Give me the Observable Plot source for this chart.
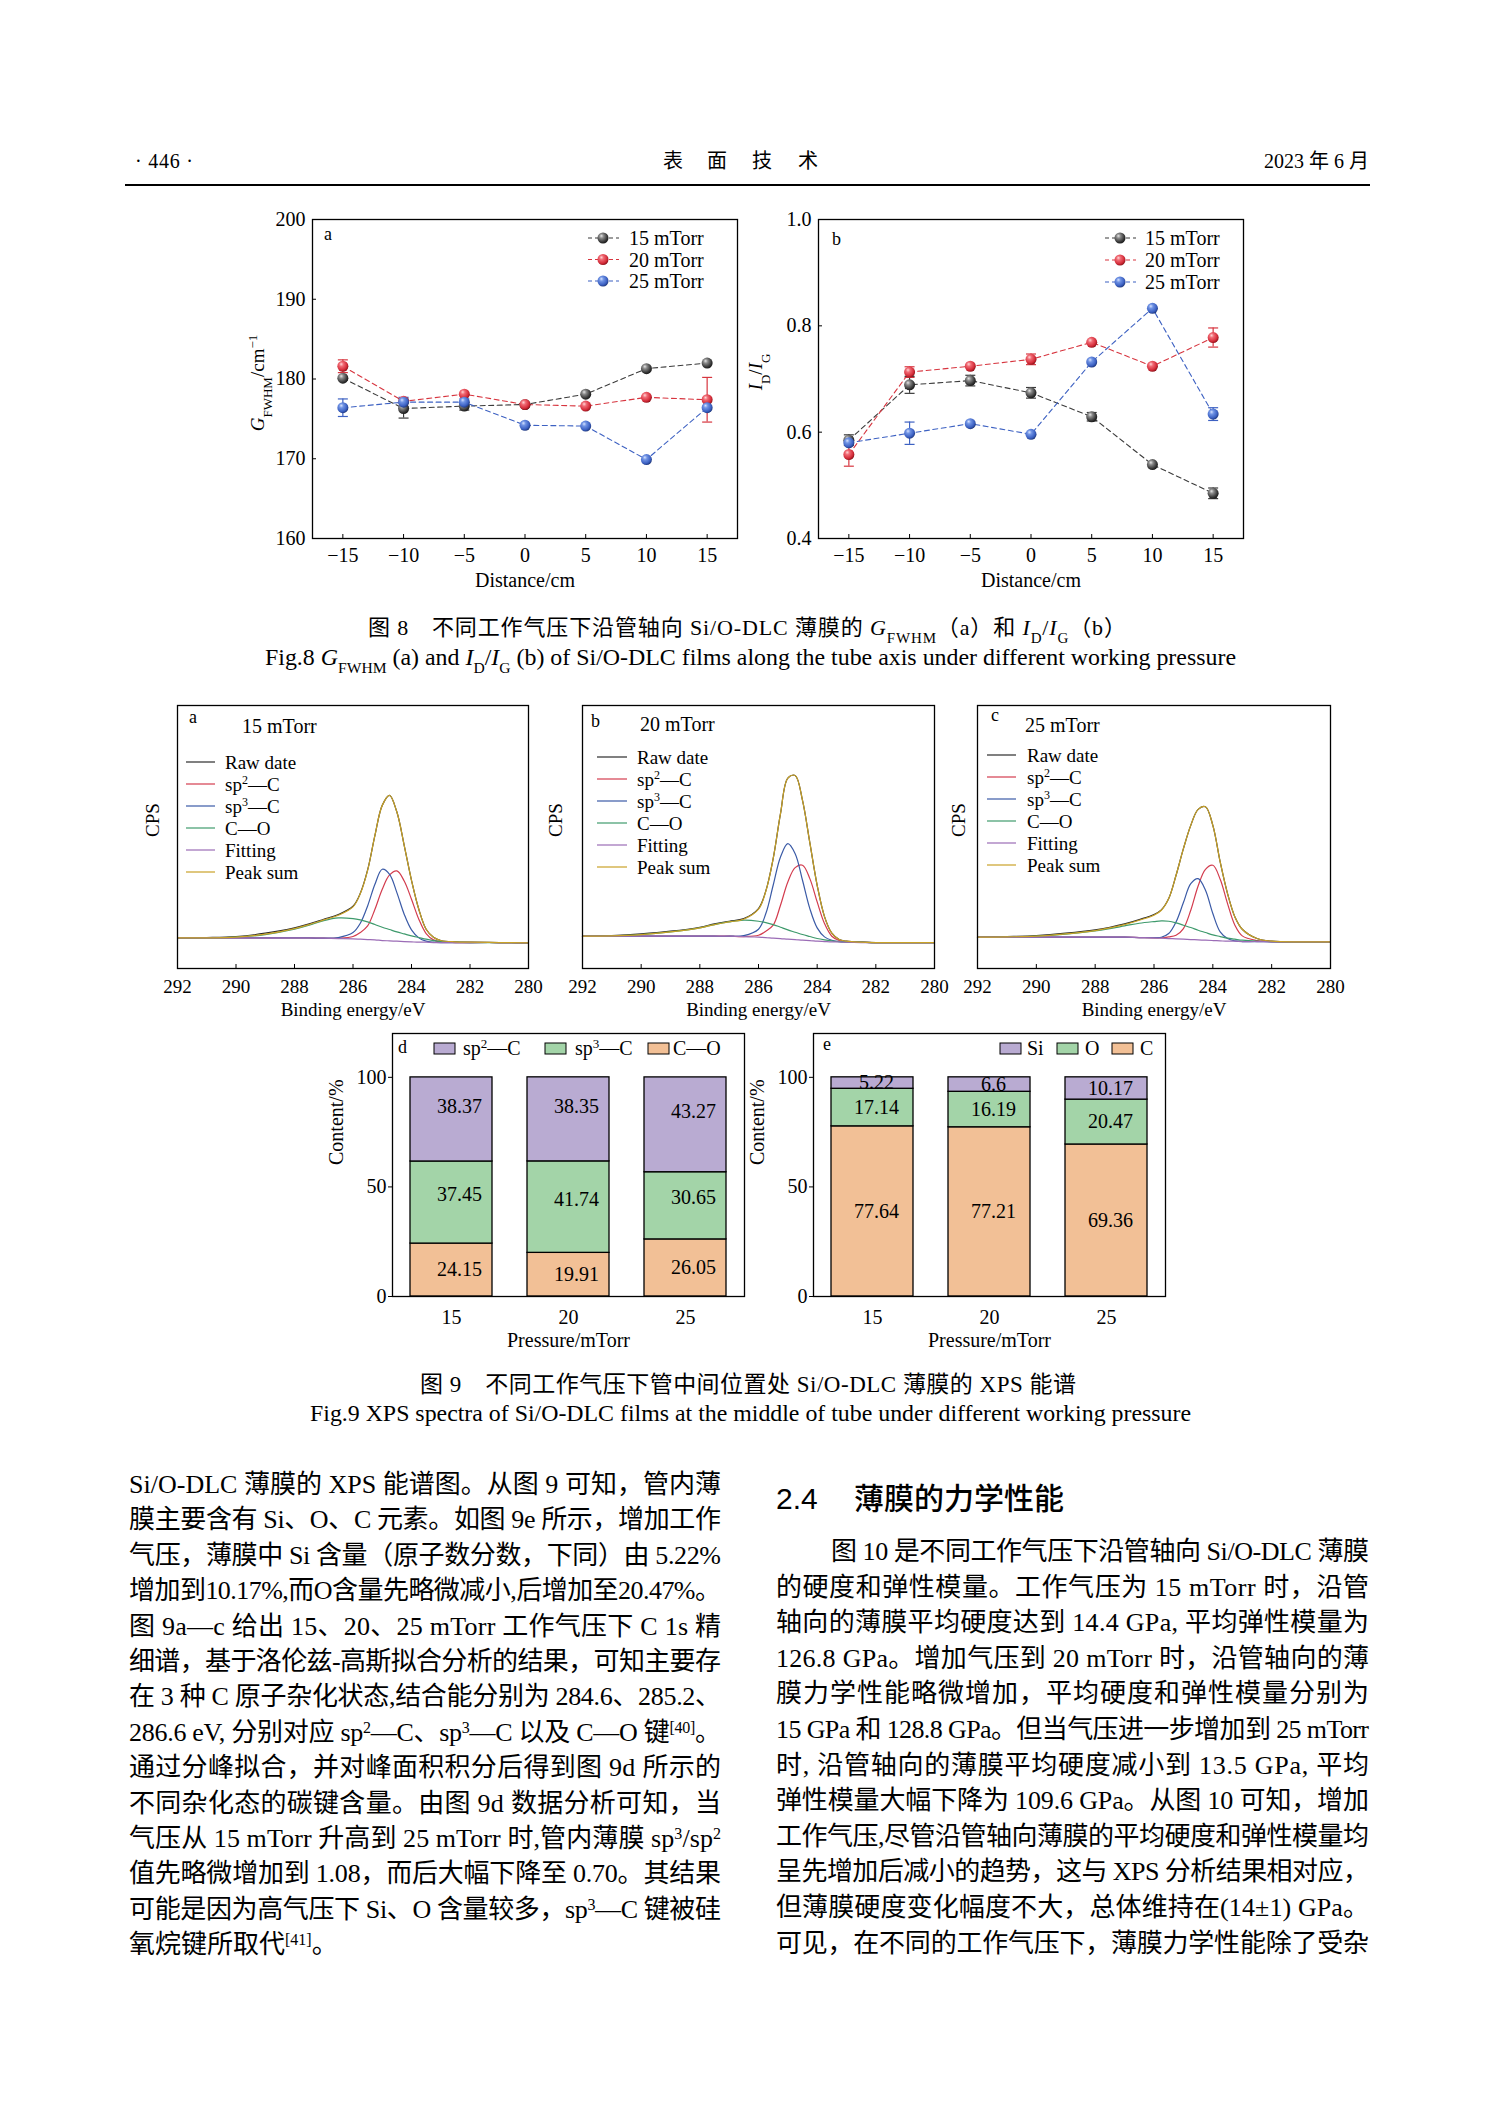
<!DOCTYPE html>
<html lang="zh">
<head>
<meta charset="utf-8">
<title>Fig.8 / Fig.9 Si/O-DLC</title>
<script src="https://cdn.jsdelivr.net/npm/d3@7"></script>
<script src="https://cdn.jsdelivr.net/npm/@observablehq/plot@0.6"></script>
<style>
html,body{margin:0;padding:0;background:#fff;}
#page{position:relative;width:1489px;height:2106px;background:#fff;overflow:hidden;}
.plot{position:absolute;line-height:0;}
.plot svg{overflow:visible;}
#overlay{position:absolute;left:0;top:0;pointer-events:none;}
</style>
</head>
<body>
<div id="page"></div>
<script>
// ================= Fig. 8 data =================
const distances = [-15, -10, -5, 0, 5, 10, 15];
const distanceTicks = [-15, -10, -5, 0, 5, 10, 15];
const pressureNames = ["15 mTorr", "20 mTorr", "25 mTorr"];
const gfwhmTicks = [160, 170, 180, 190, 200];
const gfwhm15 = [180.1, 176.3, 176.6, 176.8, 178.1, 181.3, 182.0];
const gfwhm20 = [181.6, 177.2, 178.1, 176.8, 176.6, 177.7, 177.4];
const gfwhm25 = [176.4, 177.1, 177.1, 174.2, 174.1, 169.9, 176.4];
const gfwhmErr15 = [0, 1.2, 0.5, 0, 0, 0, 0];
const gfwhmErr20 = [0.8, 0, 0, 0, 0, 0, 2.8];
const gfwhmErr25 = [1.1, 0.6, 0.4, 0, 0, 0, 0];
const idigTicks = [0.4, 0.6, 0.8, 1.0];
const idig15 = [0.585, 0.689, 0.697, 0.674, 0.629, 0.539, 0.485];
const idig20 = [0.558, 0.713, 0.724, 0.737, 0.769, 0.724, 0.778];
const idig25 = [0.580, 0.598, 0.616, 0.596, 0.732, 0.833, 0.634];
const idigErr15 = [0.01, 0.016, 0.01, 0.01, 0.008, 0, 0.01];
const idigErr20 = [0.022, 0.01, 0, 0.01, 0, 0, 0.018];
const idigErr25 = [0, 0.021, 0, 0, 0, 0, 0.012];

// ================= Fig. 9 a-c data (C 1s, CPS arbitrary units) =================
const energies = [292, 291, 290, 289, 288, 287.5, 287, 286.5, 286, 285.75, 285.5, 285.25, 285, 284.75, 284.5, 284.25, 284, 283.75, 283.5, 283.25, 283, 282.5, 282, 281, 280];
const energyTicks = [292, 290, 288, 286, 284, 282, 280];
const xpsSeries = ["Raw date", "sp2—C", "sp3—C", "C—O", "Fitting", "Peak sum"];
// 15 mTorr
const raw15 = [92, 93, 96, 106, 122, 134, 148, 162, 187, 226, 296, 400, 490, 520, 470, 370, 265, 178, 118, 94, 84, 80, 79, 78, 77];
const sp2_15 = [92, 92, 92, 92, 92, 92, 91, 91, 96, 108, 128, 178, 238, 281, 293, 263, 208, 148, 105, 86, 80, 78, 78, 78, 77];
const sp3_15 = [92, 92, 92, 92, 92, 92, 91, 93, 108, 136, 188, 253, 298, 283, 228, 163, 116, 92, 82, 79, 78, 78, 78, 78, 77];
const co15 = [92, 92, 94, 102, 118, 130, 144, 152, 150, 146, 140, 132, 124, 117, 110, 104, 98, 93, 88, 84, 81, 79, 78, 78, 77];
const fit15 = [92, 92, 92, 92, 92, 92, 91, 90, 89, 88, 87, 86, 84, 83, 82, 81, 80, 79, 79, 78, 78, 78, 78, 78, 77];
const sum15 = [92, 92, 94, 103, 120, 132, 146, 160, 185, 225, 295, 400, 490, 520, 470, 370, 265, 178, 118, 94, 84, 80, 79, 78, 77];
// 20 mTorr
const raw20 = [97, 99, 104, 112, 124, 134, 142, 150, 180, 233, 330, 465, 572, 580, 505, 378, 250, 156, 106, 87, 82, 79, 78, 78, 78];
const sp2_20 = [97, 97, 97, 97, 97, 97, 97, 96, 100, 112, 130, 190, 260, 303, 310, 270, 200, 135, 97, 84, 80, 79, 78, 78, 78];
const sp3_20 = [97, 97, 97, 97, 97, 97, 97, 99, 118, 165, 250, 335, 375, 345, 265, 180, 122, 95, 85, 81, 80, 79, 78, 78, 78];
const co20 = [97, 98, 102, 110, 122, 132, 140, 145, 142, 138, 132, 124, 116, 109, 102, 96, 90, 86, 83, 81, 80, 79, 78, 78, 78];
const fit20 = [97, 97, 97, 97, 97, 97, 97, 96, 94, 93, 91, 90, 88, 87, 85, 84, 82, 81, 80, 80, 79, 78, 78, 78, 78];
const sum20 = [97, 98, 102, 110, 122, 132, 140, 148, 178, 232, 330, 465, 572, 580, 505, 378, 250, 156, 106, 87, 82, 79, 78, 78, 78];
// 25 mTorr
const raw25 = [94, 96, 99, 106, 116, 124, 134, 147, 162, 176, 210, 280, 360, 430, 478, 486, 430, 320, 225, 155, 118, 90, 82, 80, 80];
const sp2_25 = [94, 94, 94, 94, 94, 94, 94, 93, 92, 92, 95, 100, 120, 175, 248, 298, 310, 268, 195, 130, 98, 84, 81, 80, 80];
const sp3_25 = [94, 94, 94, 94, 94, 94, 94, 93, 93, 94, 105, 140, 198, 255, 270, 235, 165, 110, 90, 83, 81, 81, 80, 80, 80];
const co25 = [94, 95, 97, 103, 113, 120, 128, 136, 141, 143, 142, 137, 130, 123, 115, 108, 101, 96, 91, 88, 85, 82, 81, 80, 80];
const fit25 = [94, 94, 94, 94, 94, 94, 94, 93, 92, 91, 90, 89, 88, 87, 86, 85, 84, 83, 82, 82, 81, 81, 80, 80, 80];
const sum25 = [94, 95, 97, 104, 114, 122, 132, 145, 160, 175, 210, 280, 360, 430, 478, 486, 430, 320, 225, 155, 118, 90, 82, 80, 80];

// ================= Fig. 9 d, e data =================
const pressureTicks = ["15", "20", "25"];
const contentTicks = [0, 50, 100];
const bondSeries = ["C—O", "sp3—C", "sp2—C"];   // bottom → top
const bondCO = [24.15, 19.91, 26.05];
const bondSp3 = [37.45, 41.74, 30.65];
const bondSp2 = [38.37, 38.35, 43.27];
const elemSeries = ["C", "O", "Si"];            // bottom → top
const elemC = [77.64, 77.21, 69.36];
const elemO = [17.14, 16.19, 20.47];
const elemSi = [5.22, 6.6, 10.17];

// ================= styles =================
const lineColors = ["#3b3b3b", "#d7353f", "#3d61c2"];
const xpsColors = ["#2a2a2a", "#d33c4e", "#3a5aa6", "#3e9a6c", "#9b6cb6", "#c9a227"];
const purple = "#b9abd2", green = "#a3d4a8", peach = "#f2c096";
const FONT = "'Liberation Serif', 'Noto Sans CJK SC', serif";
const baseStyle = {fontFamily: FONT, fontSize: "20px", color: "#000", background: "transparent", overflow: "visible"};
const fmtMinus = d => d < 0 ? "\u2212" + Math.abs(d) : String(d);

const page = document.getElementById("page");
function place(el, left, top) {
  const d = document.createElement("div");
  d.className = "plot";
  d.style.left = left + "px";
  d.style.top = top + "px";
  d.appendChild(el);
  page.appendChild(d);
}

// ----- Fig 8 panels -----
const capSymbol = {draw(ctx, size) { const r = Math.sqrt(size / Math.PI); ctx.moveTo(-r, 0); ctx.lineTo(r, 0); }};
function fig8(left, mL, yDomain, yTicks, yFmt, vals, errs) {
  const rows = [], errRows = [];
  vals.forEach((arr, s) => arr.forEach((v, i) => {
    const r = {d: distances[i], v, err: errs[s][i], col: lineColors[s], grad: `url(#sph${s})`, s};
    rows.push(r);
    if (r.err > 0) errRows.push(r);
  }));
  const p = Plot.plot({
    width: mL + 425 + 10, height: 400,
    marginLeft: mL, marginRight: 10, marginTop: 19, marginBottom: 62,
    x: {domain: [-17.5, 17.5]},
    y: {domain: yDomain},
    color: {type: "identity"},
    style: baseStyle,
    marks: [
      Plot.line(rows, {x: "d", y: "v", z: "s", stroke: "col", strokeWidth: 1.1, strokeDasharray: "5,3.5"}),
      Plot.ruleX(errRows, {x: "d", y1: r => r.v - r.err, y2: r => r.v + r.err, stroke: "col", strokeWidth: 1.2}),
      Plot.dot(errRows, {x: "d", y: r => r.v - r.err, symbol: capSymbol, r: 5, stroke: "col", fill: "none", strokeWidth: 1.2}),
      Plot.dot(errRows, {x: "d", y: r => r.v + r.err, symbol: capSymbol, r: 5, stroke: "col", fill: "none", strokeWidth: 1.2}),
      Plot.dot(rows, {x: "d", y: "v", r: 5.5, fill: "grad"}),
      Plot.frame({stroke: "#000", strokeWidth: 1.3}),
      Plot.axisX({ticks: distanceTicks, tickFormat: fmtMinus, tickSize: -4, tickPadding: 13, label: null}),
      Plot.axisY({ticks: yTicks, tickFormat: yFmt, tickSize: -4, tickPadding: 11, label: null}),
      Plot.text(["Distance/cm"], {frameAnchor: "bottom", dy: 48, text: d => d, fontSize: 20})
    ]
  });
  place(p, left, 200);
}
fig8(230, 82, [160, 200], gfwhmTicks, d => String(d),
  [gfwhm15, gfwhm20, gfwhm25], [gfwhmErr15, gfwhmErr20, gfwhmErr25]);
fig8(740, 78, [0.4, 1.0], idigTicks, d3.format(".1f"),
  [idig15, idig20, idig25], [idigErr15, idigErr20, idigErr25]);

// ----- Fig 9 a-c -----
function xps(left, frameW, series, cpsDx) {
  const rows = [];
  series.forEach((arr, s) => arr.forEach((v, i) => rows.push({e: energies[i], v, s: xpsSeries[s]})));
  const p = Plot.plot({
    width: 47 + frameW + 25, height: 340,
    marginLeft: 47, marginRight: 25, marginTop: 15, marginBottom: 62,
    x: {domain: [292, 280]},
    y: {domain: [0, 790], axis: null},
    color: {domain: xpsSeries, range: xpsColors},
    style: {...baseStyle, fontSize: "19px"},
    marks: [
      Plot.line(rows, {x: "e", y: "v", z: "s", stroke: "s", strokeWidth: 1.2, curve: "catmull-rom"}),
      Plot.frame({stroke: "#000", strokeWidth: 1.3}),
      Plot.axisX({ticks: energyTicks, tickSize: -4, tickPadding: 15, label: null}),
      Plot.text(["Binding energy/eV"], {frameAnchor: "bottom", dy: 47, text: d => d, fontSize: 19}),
      Plot.text(["CPS"], {frameAnchor: "left", dx: cpsDx, rotate: -90, text: d => d, fontSize: 19})
    ]
  });
  place(p, left, 690);
}
xps(130, 351, [raw15, sp2_15, sp3_15, co15, fit15, sum15], -25);
xps(535, 352, [raw20, sp2_20, sp3_20, co20, fit20, sum20], -27);
xps(930, 353, [raw25, sp2_25, sp3_25, co25, fit25, sum25], -19);

// ----- Fig 9 d, e -----
function bars(left, seriesNames, valueArrays, colors, dx, labelDy) {
  const rows = [];
  seriesNames.forEach((s, si) => pressureTicks.forEach((p, i) => rows.push({p, v: valueArrays[si][i], s})));
  const labelMarks = seriesNames.map((s, si) =>
    Plot.text(rows, Plot.stackY({
      x: "p", y: "v", z: "s", text: d => d.s === s ? String(d.v) : "",
      dx, dy: labelDy[si], fontSize: 20
    }))
  );
  const p = Plot.plot({
    width: 434, height: 340,
    marginLeft: 72, marginRight: 10, marginTop: 13, marginBottom: 64,
    x: {domain: pressureTicks, paddingInner: 0.3, paddingOuter: 0.15},
    y: {domain: [0, 120]},
    color: {domain: seriesNames, range: colors},
    style: baseStyle,
    marks: [
      Plot.barY(rows, Plot.stackY({x: "p", y: "v", z: "s", fill: "s", stroke: "#000", strokeWidth: 1.3})),
      ...labelMarks,
      Plot.frame({stroke: "#000", strokeWidth: 1.3}),
      Plot.axisY({ticks: contentTicks, tickSize: 4, tickPadding: 2, label: null}),
      Plot.axisX({tickSize: 0, tickPadding: 13, label: null}),
      Plot.text(["Pressure/mTorr"], {frameAnchor: "bottom", dy: 50, text: d => d, fontSize: 20}),
      Plot.text(["Content/%"], {frameAnchor: "left", dx: -56, rotate: -90, text: d => d, fontSize: 20})
    ]
  });
  place(p, left, 1020);
}
bars(320, bondSeries, [bondCO, bondSp3, bondSp2], [peach, green, purple], 8, [0, -8, -13]);
bars(741, elemSeries, [elemC, elemO, elemSi], [peach, green, purple], 4, [0, 0, 0]);

// ================= text overlay (page header, legends, captions, body) =================
function rich(s, small) {
  return s.split(/([\^_~]\{[^}]*\})/).map(p => {
    const m = p.match(/^([\^_~])\{([^}]*)\}$/);
    if (!m) return p;
    if (m[1] === "^") return `<tspan baseline-shift="super" font-size="${small}">${m[2]}</tspan>`;
    if (m[1] === "_") return `<tspan baseline-shift="sub" font-size="${small}">${m[2]}</tspan>`;
    return `<tspan font-style="italic">${m[2]}</tspan>`;
  }).join("");
}
let o = "";
// gradients for spheres
o += `<defs>`;
const sphStops = [
  ["#e6e6e6", "#8a8a8a", "#3a3a3a", "#151515"],
  ["#ffd6d6", "#f06a74", "#d42c39", "#8a1018"],
  ["#d6e2ff", "#7093e4", "#3b60c2", "#1c3478"]
];
sphStops.forEach((st, i) => {
  o += `<radialGradient id="sph${i}" cx="0.4" cy="0.38" r="0.65" fx="0.35" fy="0.3">` +
       `<stop offset="0" stop-color="${st[0]}"/><stop offset="0.3" stop-color="${st[1]}"/>` +
       `<stop offset="0.75" stop-color="${st[2]}"/><stop offset="1" stop-color="${st[3]}"/></radialGradient>`;
});
o += `</defs>`;

// header
o += `<text x="135" y="168" font-size="20" textLength="58" lengthAdjust="spacing">· 446 ·</text>`;
[["表", 673], ["面", 717], ["技", 762], ["术", 808]].forEach(([c, x]) => {
  o += `<text x="${x}" y="168" font-size="20" text-anchor="middle">${c}</text>`;
});
o += `<text x="1369" y="168" font-size="20" text-anchor="end">2023 年 6 月</text>`;
o += `<line x1="125" x2="1370" y1="185" y2="185" stroke="#000" stroke-width="2"/>`;

// Fig 8 legends & labels
function fig8Legend(x1, x2, xc, xt, y0, dy) {
  pressureNames.forEach((p, i) => {
    const y = y0 + i * dy;
    o += `<line x1="${x1}" x2="${x2}" y1="${y}" y2="${y}" stroke="${lineColors[i]}" stroke-width="1.1" stroke-dasharray="4,3"/>`;
    o += `<circle cx="${xc}" cy="${y}" r="5.5" fill="url(#sph${i})"/>`;
    o += `<text x="${xt}" y="${y + 7}" font-size="20">${p}</text>`;
  });
}
fig8Legend(588, 619, 603, 629, 238, 21.5);
fig8Legend(1105, 1136, 1120, 1145, 238, 22);
o += `<text x="324" y="240" font-size="18">a</text>`;
o += `<text x="832" y="245" font-size="18">b</text>`;
o += `<text transform="translate(264,383) rotate(-90)" text-anchor="middle" font-size="19">${rich("~{G}_{FWHM}/cm^{−1}", 13)}</text>`;
o += `<text transform="translate(762,372) rotate(-90)" text-anchor="middle" font-size="19">${rich("~{I}_{D}/~{I}_{G}", 13)}</text>`;

// Fig 8 caption
o += `<text x="368" y="635" font-size="22" textLength="758" lengthAdjust="spacing">${rich("图 8　不同工作气压下沿管轴向 Si/O-DLC 薄膜的 ~{G}_{FWHM}（a）和 ~{I}_{D}/~{I}_{G}（b）", 15)}</text>`;
o += `<text x="265" y="665" font-size="23" textLength="971" lengthAdjust="spacingAndGlyphs">${rich("Fig.8 ~{G}_{FWHM} (a) and ~{I}_{D}/~{I}_{G} (b) of Si/O-DLC films along the tube axis under different working pressure", 15)}</text>`;

// Fig 9 a-c legends
const legLabels = ["Raw date", "sp^{2}—C", "sp^{3}—C", "C—O", "Fitting", "Peak sum"];
[
  {letter: "a", lx: 189, ly: 723, title: "15 mTorr", tx: 242, ty: 733, y0: 762, l1: 186, l2: 215, t: 225},
  {letter: "b", lx: 591, ly: 727, title: "20 mTorr", tx: 640, ty: 731, y0: 757, l1: 597, l2: 627, t: 637},
  {letter: "c", lx: 991, ly: 721, title: "25 mTorr", tx: 1025, ty: 732, y0: 755, l1: 987, l2: 1016, t: 1027}
].forEach(P => {
  o += `<text x="${P.lx}" y="${P.ly}" font-size="18">${P.letter}</text>`;
  o += `<text x="${P.tx}" y="${P.ty}" font-size="20">${P.title}</text>`;
  legLabels.forEach((lab, i) => {
    const y = P.y0 + i * 22;
    o += `<line x1="${P.l1}" x2="${P.l2}" y1="${y}" y2="${y}" stroke="${xpsColors[i]}" stroke-width="1.2"/>`;
    o += `<text x="${P.t}" y="${y + 6.5}" font-size="19">${rich(lab, 12)}</text>`;
  });
});

// Fig 9 d, e legends
function barLegend(items) {
  items.forEach(([sx, tx, lab, col]) => {
    o += `<rect x="${sx}" y="1043" width="21" height="11" fill="${col}" stroke="#000" stroke-width="1"/>`;
    o += `<text x="${tx}" y="1055" font-size="20">${rich(lab, 13)}</text>`;
  });
}
barLegend([[434, 463, "sp^{2}—C", purple], [545, 575, "sp^{3}—C", green], [648, 673, "C—O", peach]]);
barLegend([[1000, 1027, "Si", purple], [1057, 1085, "O", green], [1112, 1140, "C", peach]]);
o += `<text x="398" y="1053" font-size="18">d</text>`;
o += `<text x="823" y="1050" font-size="18">e</text>`;

// Fig 9 caption
o += `<text x="420" y="1392" font-size="23" textLength="656" lengthAdjust="spacing">图 9　不同工作气压下管中间位置处 Si/O-DLC 薄膜的 XPS 能谱</text>`;
o += `<text x="310" y="1421" font-size="23" textLength="881" lengthAdjust="spacingAndGlyphs">Fig.9 XPS spectra of Si/O-DLC films at the middle of tube under different working pressure</text>`;

// body text
const leftLines = [
  "Si/O-DLC 薄膜的 XPS 能谱图。从图 9 可知，管内薄",
  "膜主要含有 Si、O、C 元素。如图 9e 所示，增加工作",
  "气压，薄膜中 Si 含量（原子数分数，下同）由 5.22%",
  "增加到10.17%,而O含量先略微减小,后增加至20.47%。",
  "图 9a—c 给出 15、20、25 mTorr 工作气压下 C 1s 精",
  "细谱，基于洛伦兹-高斯拟合分析的结果，可知主要存",
  "在 3 种 C 原子杂化状态,结合能分别为 284.6、285.2、",
  "286.6 eV, 分别对应 sp^{2}—C、sp^{3}—C 以及 C—O 键^{[40]}。",
  "通过分峰拟合，并对峰面积积分后得到图 9d 所示的",
  "不同杂化态的碳键含量。由图 9d 数据分析可知，当",
  "气压从 15 mTorr 升高到 25 mTorr 时,管内薄膜 sp^{3}/sp^{2}",
  "值先略微增加到 1.08，而后大幅下降至 0.70。其结果",
  "可能是因为高气压下 Si、O 含量较多，sp^{3}—C 键被硅",
  "氧烷键所取代^{[41]}。"
];
const rightLines = [
  "图 10 是不同工作气压下沿管轴向 Si/O-DLC 薄膜",
  "的硬度和弹性模量。工作气压为 15 mTorr 时，沿管",
  "轴向的薄膜平均硬度达到 14.4 GPa, 平均弹性模量为",
  "126.8 GPa。增加气压到 20 mTorr 时，沿管轴向的薄",
  "膜力学性能略微增加，平均硬度和弹性模量分别为",
  "15 GPa 和 128.8 GPa。但当气压进一步增加到 25 mTorr",
  "时, 沿管轴向的薄膜平均硬度减小到 13.5 GPa, 平均",
  "弹性模量大幅下降为 109.6 GPa。从图 10 可知，增加",
  "工作气压,尽管沿管轴向薄膜的平均硬度和弹性模量均",
  "呈先增加后减小的趋势，这与 XPS 分析结果相对应，",
  "但薄膜硬度变化幅度不大，总体维持在(14±1) GPa。",
  "可见，在不同的工作气压下，薄膜力学性能除了受杂"
];
leftLines.forEach((ln, i) => {
  const y = (1493 + i * 35.4).toFixed(1);
  const last = i === leftLines.length - 1;
  o += `<text x="129" y="${y}" font-size="26" ${last ? "" : 'textLength="592" lengthAdjust="spacing"'}>${rich(ln, 16)}</text>`;
});
o += `<text x="776" y="1509" font-size="30" font-family="'Liberation Sans','Noto Sans CJK SC',sans-serif" font-weight="500">2.4</text>`;
o += `<text x="854" y="1509" font-size="30" font-family="'Noto Sans CJK SC',sans-serif" font-weight="500">薄膜的力学性能</text>`;
rightLines.forEach((ln, i) => {
  const y = (1560 + i * 35.6).toFixed(1);
  const x = i === 0 ? 831 : 776;
  const len = 1369 - x;
  o += `<text x="${x}" y="${y}" font-size="26" textLength="${len}" lengthAdjust="spacing">${rich(ln, 16)}</text>`;
});

const NS = "http://www.w3.org/2000/svg";
const ov = document.createElementNS(NS, "svg");
ov.setAttribute("id", "overlay");
ov.setAttribute("width", "1489");
ov.setAttribute("height", "2106");
ov.setAttribute("viewBox", "0 0 1489 2106");
ov.setAttribute("font-family", FONT);
ov.innerHTML = o;
page.appendChild(ov);
</script>
</body>
</html>
